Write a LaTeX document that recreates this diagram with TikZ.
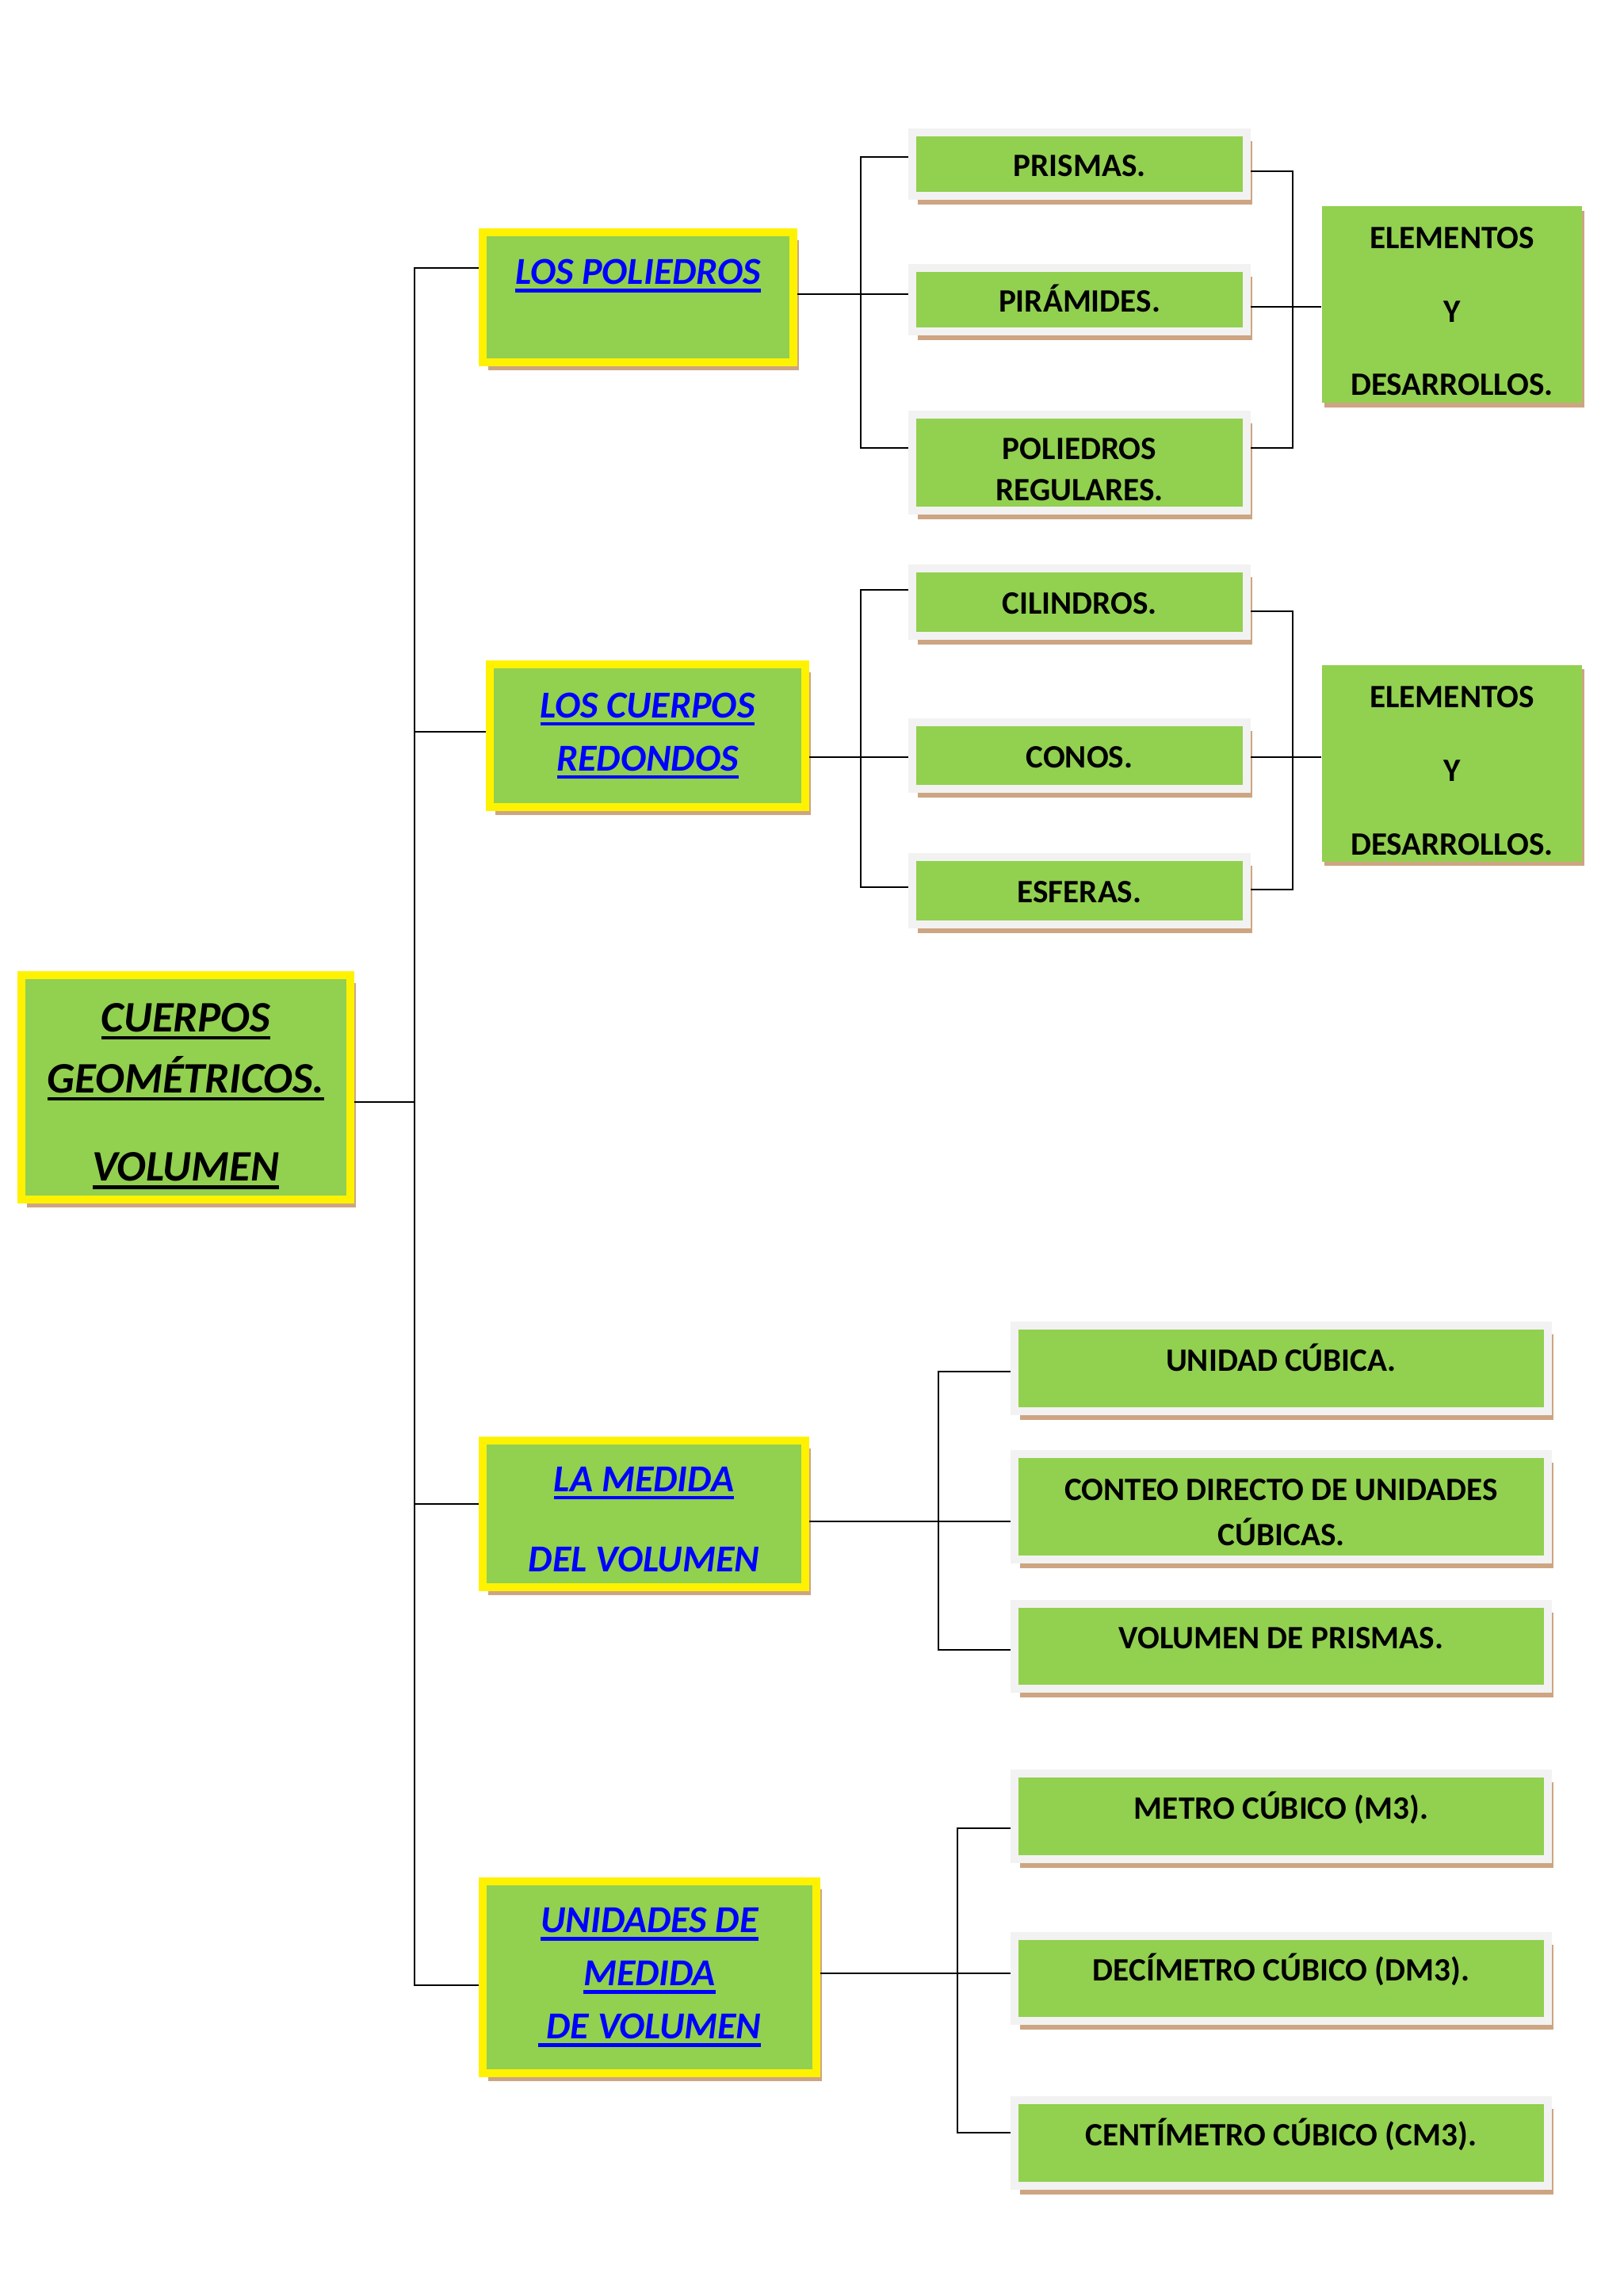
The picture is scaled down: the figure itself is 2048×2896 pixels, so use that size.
\documentclass[tikz,border=0pt]{standalone}
\usepackage{fontspec}
\setmainfont{Carlito}
\usepackage{xcolor}
\usetikzlibrary{shadows}
\newcommand{\ulin}[1]{\leavevmode\setbox0\hbox{#1}\rlap{\vrule height -1.6pt depth 2.9pt width \wd0}\box0}
\newcommand{\tallstrut}[1]{\rule{0pt}{#1}}
\definecolor{boxgreen}{RGB}{146,208,80}
\definecolor{shadowtan}{RGB}{205,165,130}
\definecolor{framegray}{RGB}{242,242,242}

\begin{document}
\begin{tikzpicture}[x=0.1025mm, y=-0.1025mm, every node/.style={font=\bfseries}]
    \tikzset{
        boxsize/.style 2 args={minimum width=#1*0.2916pt, minimum height=#2*0.2916pt},
        topbox/.style={draw=yellow, line width=1.03mm, fill=boxgreen, align=center, inner sep=0pt,
            drop shadow={fill=shadowtan, opacity=1, shadow xshift=0.7mm, shadow yshift=-1mm}},
        title/.style={topbox, text=blue, font=\bfseries\itshape\fontsize{14}{19.5}\selectfont},
        leaf/.style={draw=framegray, line width=1.03mm, fill=boxgreen, align=center, inner sep=0pt,
            font=\bfseries\fontsize{12}{14.4}\selectfont,
            drop shadow={fill=shadowtan, opacity=1, shadow xshift=0.7mm, shadow yshift=-1.1mm}},
        oneline/.style={text height=10.5pt, text depth=1.5pt},
        topline/.style={text height=7pt, text depth=5pt},
        result/.style={fill=boxgreen, align=center, inner sep=0pt, boxsize={328}{248},
            font=\bfseries\fontsize{12}{27}\selectfont,
            drop shadow={fill=shadowtan, opacity=1, shadow xshift=0.3mm, shadow yshift=-0.6mm}},
        link/.style={line width=0.8pt}
    }
    \useasboundingbox (0,0) rectangle (2048,2896);

    \node[topbox, boxsize={415}{283}, font=\bfseries\itshape\fontsize{16}{22.5}\selectfont]
        (main) at (234.5,1371.5) {\tallstrut{17pt}\ulin{CUERPOS}\\\ulin{GEOMÉTRICOS.}\\[10pt]\ulin{VOLUMEN}};

    \node[title, boxsize={392}{164}, text height=12.2pt, text depth=21.7pt] (poliedros) at (805,375) {\ulin{LOS POLIEDROS}};
    \node[title, boxsize={398}{180}] (redondos) at (817,928) {\ulin{LOS CUERPOS}\\\ulin{REDONDOS}};
    \node[title, boxsize={407}{185}, font=\bfseries\itshape\fontsize{14}{29.7}\selectfont] (medida) at (812.5,1909.5) {\tallstrut{13.2pt}\ulin{LA MEDIDA}\\DEL VOLUMEN};
    \node[title, boxsize={421}{242}] (unidades) at (819.5,2494) {\ulin{UNIDADES DE}\\\ulin{MEDIDA}\\\ulin{~DE VOLUMEN}};

    % poliedros
    \node[leaf, oneline, boxsize={422}{80}] (prismas) at (1362,207) {PRISMAS.};
    \node[leaf, oneline, boxsize={422}{80}] (piramides) at (1362,378) {PIRÁMIDES.};
    \node[leaf, boxsize={422}{121}, font=\bfseries\fontsize{12}{15.2}\selectfont] (regulares) at (1362,583.5) {\tallstrut{13pt}POLIEDROS\\REGULARES.};
    \node[result] (elem1) at (1832,384) {\tallstrut{13pt}ELEMENTOS\\Y\\DESARROLLOS.};

    % cuerpos redondos
    \node[leaf, oneline, boxsize={422}{85}] (cilindros) at (1362,759.5) {CILINDROS.};
    \node[leaf, oneline, boxsize={422}{84}] (conos) at (1362,953) {CONOS.};
    \node[leaf, oneline, boxsize={422}{85}] (esferas) at (1362,1123.5) {ESFERAS.};
    \node[result] (elem2) at (1832,962.5) {\tallstrut{13.5pt}ELEMENTOS\\Y\\DESARROLLOS.};

    % medida y unidades
    \node[leaf, topline, boxsize={673}{108}] (cubica) at (1616.5,1726) {UNIDAD CÚBICA.};
    \node[leaf, boxsize={673}{133}, font=\bfseries\fontsize{12}{16.6}\selectfont] (conteo) at (1616.5,1900.5) {\tallstrut{12pt}CONTEO DIRECTO DE UNIDADES\\CÚBICAS.};
    \node[leaf, topline, boxsize={673}{107}] (volprismas) at (1616.5,2076.5) {VOLUMEN DE PRISMAS.};
    \node[leaf, topline, boxsize={673}{108}] (metro) at (1616.5,2291) {METRO CÚBICO (M3).};
    \node[leaf, topline, boxsize={673}{107}] (decimetro) at (1616.5,2495.5) {DECÍMETRO CÚBICO (DM3).};
    \node[leaf, topline, boxsize={673}{108}] (centimetro) at (1616.5,2703) {CENTÍMETRO CÚBICO (CM3).};

    \coordinate (trunk) at (523,0);
    \coordinate (fork1) at (1086,0);
    \coordinate (join1) at (1631,0);
    \coordinate (fork3) at (1184,0);
    \coordinate (fork4) at (1208,0);

    \draw[link] (main.east |- 0,1390) -- (trunk |- 0,1390);
    \draw[link] (poliedros.west |- 0,338) -| (trunk |- 0,2504) -- (unidades.west |- 0,2504);
    \foreach \dest/\yy in {redondos/923, medida/1897} {
        \draw[link] (trunk |- 0,\yy) -- (\dest.west |- 0,\yy);
    }

    \draw[link] (poliedros.east |- 0,371) -- (piramides.west |- 0,371);
    \draw[link] (prismas.west |- 0,198) -| (fork1 |- 0,565) -- (regulares.west |- 0,565);
    \draw[link] (prismas.east |- 0,216) -| (join1 |- 0,565) -- (regulares.east |- 0,565);
    \draw[link] (piramides.east |- 0,387) -- (elem1.west |- 0,387);

    \draw[link] (redondos.east |- 0,955) -- (conos.west |- 0,955);
    \draw[link] (cilindros.west |- 0,744) -| (fork1 |- 0,1119) -- (esferas.west |- 0,1119);
    \draw[link] (cilindros.east |- 0,771) -| (join1 |- 0,1122) -- (esferas.east |- 0,1122);
    \draw[link] (conos.east |- 0,955) -- (elem2.west |- 0,955);

    \draw[link] (medida.east |- 0,1919) -- (conteo.west |- 0,1919);
    \draw[link] (cubica.west |- 0,1730) -| (fork3 |- 0,2081) -- (volprismas.west |- 0,2081);

    \draw[link] (unidades.east |- 0,2489) -- (decimetro.west |- 0,2489);
    \draw[link] (metro.west |- 0,2306) -| (fork4 |- 0,2690) -- (centimetro.west |- 0,2690);
\end{tikzpicture}
\end{document}
